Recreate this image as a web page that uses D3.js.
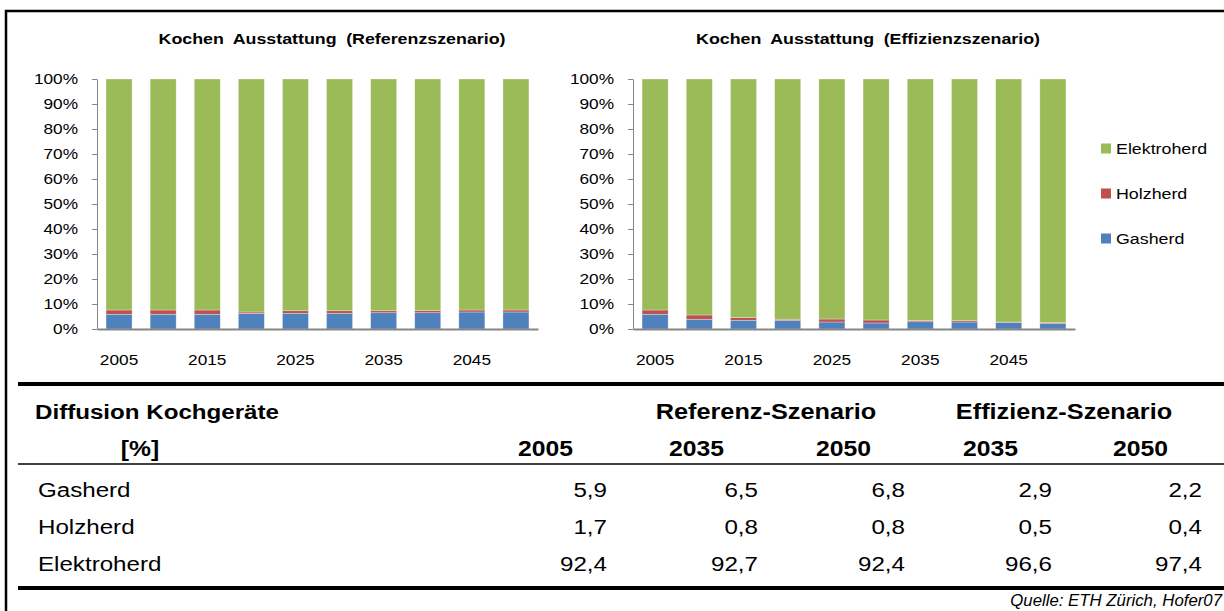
<!DOCTYPE html>
<html>
<head>
<meta charset="utf-8">
<script src="https://cdn.jsdelivr.net/npm/d3@7"></script>
<style>
  body { margin: 0; background: #fff; }
  svg { display: block; font-family: Arial, "Liberation Sans", sans-serif; }
  .tick text { font-size: 15px; fill: #000; }
  .domain, .tick line { stroke: #868686; }
</style>
</head>
<body>
<div class="chart"></div>
<script>
const years = [2005, 2010, 2015, 2020, 2025, 2030, 2035, 2040, 2045, 2050];
const yearLabels = [2005, 2015, 2025, 2035, 2045];
const seriesNames = ["Gasherd", "Holzherd", "Elektroherd"];
const seriesColors = ["#4F81BD", "#C0504D", "#9BBB59"];

// Referenzszenario (%)
const refGas  = [5.9, 5.9, 5.9, 6.2, 6.3, 6.3, 6.5, 6.5, 6.8, 6.8];
const refHolz = [1.7, 1.7, 1.7, 0.6, 1.0, 1.0, 0.8, 0.9, 0.8, 0.8];
const refElek = [92.4, 92.4, 92.4, 93.2, 92.7, 92.7, 92.7, 92.6, 92.4, 92.4];

// Effizienzszenario (%)
const effGas  = [5.9, 3.9, 3.5, 3.4, 2.8, 2.4, 2.9, 2.8, 2.6, 2.2];
const effHolz = [1.7, 1.7, 1.1, 0.5, 1.2, 1.2, 0.5, 0.5, 0.2, 0.4];
const effElek = [92.4, 94.4, 95.4, 96.1, 96.0, 96.4, 96.6, 96.7, 97.2, 97.4];

// table
const tableTitle = "Diffusion Kochgeräte";
const tableUnit = "[%]";
const scenarioLabels = ["Referenz-Szenario", "Effizienz-Szenario"];
const tableYears = ["2005", "2035", "2050", "2035", "2050"];
const tableGas  = [5.9, 6.5, 6.8, 2.9, 2.2];
const tableHolz = [1.7, 0.8, 0.8, 0.5, 0.4];
const tableElek = [92.4, 92.7, 92.4, 96.6, 97.4];

const svg_width = 1224;
const svg_height = 611;
const SX = 1.15; // the original text is a bit wider than plain Arial

const svg = d3.select(".chart").append("svg")
  .attr("width", svg_width).attr("height", svg_height);

// text helper: stretched horizontally around its anchor point
function addText(parent, x, y, str, size, opts = {}) {
  return parent.append("text")
    .attr("transform", `translate(${x},${y}) scale(${opts.sx || SX},1)`)
    .attr("text-anchor", opts.anchor || "start")
    .style("font-size", size + "px")
    .style("font-weight", opts.bold ? "bold" : null)
    .style("font-style", opts.italic ? "italic" : null)
    .style("word-spacing", opts.ws || null)
    .text(str);
}

// outer frame (runs off the right/bottom edge in the original)
svg.append("rect")
  .attr("x", 6).attr("y", 11)
  .attr("width", 1240).attr("height", 640)
  .attr("fill", "none").attr("stroke", "#000").attr("stroke-width", 2.5);

const yScale = d3.scaleLinear([0, 100], [329, 79]);

function drawChart(title, gas, holz, elek, xLeft, xRight, titleX) {
  const g = svg.append("g");
  const data = years.map((yr, i) => ({year: yr, Gasherd: gas[i], Holzherd: holz[i], Elektroherd: elek[i]}));
  const stacked = d3.stack().keys(seriesNames)(data);

  const xScale = d3.scaleBand().domain(years)
    .range([xLeft, xRight])
    .paddingInner(0.41).paddingOuter(0.205);

  addText(g, titleX, 44, title, 15.5, {anchor: "middle", bold: true, ws: "4px"});

  g.selectAll(".layer")
    .data(stacked)
    .enter().append("g")
    .attr("class", "layer")
    .attr("fill", (d, i) => seriesColors[i])
    .selectAll("rect")
    .data(d => d)
    .enter().append("rect")
    .attr("x", d => xScale(d.data.year))
    .attr("y", d => yScale(d[1]))
    .attr("width", xScale.bandwidth())
    .attr("height", d => yScale(d[0]) - yScale(d[1]))
    .attr("stroke", "#fff").attr("stroke-opacity", 0.5).attr("stroke-width", 0.6);

  const yAxis = d3.axisLeft(yScale)
    .tickValues(d3.range(0, 101, 10))
    .tickFormat(d => d + "%")
    .tickSize(5).tickSizeOuter(0);
  const yAxisDraw = g.append("g").attr("class", "y axis")
    .attr("transform", `translate(${xLeft},0)`)
    .call(yAxis);
  yAxisDraw.selectAll("text")
    .attr("x", -19 / SX)
    .attr("transform", `scale(${SX},1)`);

  const xAxis = d3.axisBottom(xScale)
    .tickValues(yearLabels)
    .tickSize(0).tickSizeOuter(0).tickPadding(25);
  const xAxisDraw = g.append("g").attr("class", "x axis")
    .attr("transform", `translate(0,${yScale(0)})`)
    .call(xAxis);
  xAxisDraw.select(".domain").attr("stroke-width", 2);
  xAxisDraw.selectAll("text").attr("transform", `scale(${SX},1)`);
}

drawChart("Kochen Ausstattung (Referenzszenario)", refGas, refHolz, refElek, 97, 538, 332);
drawChart("Kochen Ausstattung (Effizienzszenario)", effGas, effHolz, effElek, 633, 1075, 868);

// legend
const legendY = [238.5, 193.5, 148.5];
const legend = svg.append("g");
seriesNames.forEach((name, i) => {
  legend.append("rect")
    .attr("x", 1101).attr("y", legendY[i] - 5)
    .attr("width", 10).attr("height", 10)
    .attr("fill", seriesColors[i]);
  addText(legend, 1116, legendY[i] + 5.5, name, 15.5);
});

// table
const fmt = d3.formatLocale({decimal: ",", thousands: ".", grouping: [3], currency: ["", ""]}).format(".1f");
const colRight = [607, 758, 905, 1052, 1202];
const tbl = svg.append("g");

tbl.append("line").attr("x1", 18).attr("x2", 1224).attr("y1", 384).attr("y2", 384)
  .attr("stroke", "#000").attr("stroke-width", 4);
tbl.append("line").attr("x1", 18).attr("x2", 1224).attr("y1", 464).attr("y2", 464)
  .attr("stroke", "#000").attr("stroke-width", 1.5);
tbl.append("line").attr("x1", 18).attr("x2", 1224).attr("y1", 588).attr("y2", 588)
  .attr("stroke", "#000").attr("stroke-width", 4);

addText(tbl, 35, 419, tableTitle, 21, {bold: true});
addText(tbl, 140, 456, tableUnit, 21.5, {bold: true, anchor: "middle"});

const scenarioX = [766, 1064];
scenarioLabels.forEach((s, i) => {
  addText(tbl, scenarioX[i], 419, s, 22, {bold: true, anchor: "middle"});
});
tableYears.forEach((yr, i) => {
  addText(tbl, colRight[i] - 34, 456, yr, 21.5, {bold: true, anchor: "end"});
});

const tableValues = [tableGas, tableHolz, tableElek];
const rowY = [497, 534, 571];
seriesNames.forEach((name, r) => {
  addText(tbl, 38, rowY[r], name, 21);
  tableValues[r].forEach((v, c) => {
    addText(tbl, colRight[c], rowY[r], fmt(v), 21, {anchor: "end"});
  });
});

addText(svg, 1222, 606, "Quelle: ETH Zürich, Hofer07", 16, {anchor: "end", italic: true, sx: 1.05});
</script>
</body>
</html>
